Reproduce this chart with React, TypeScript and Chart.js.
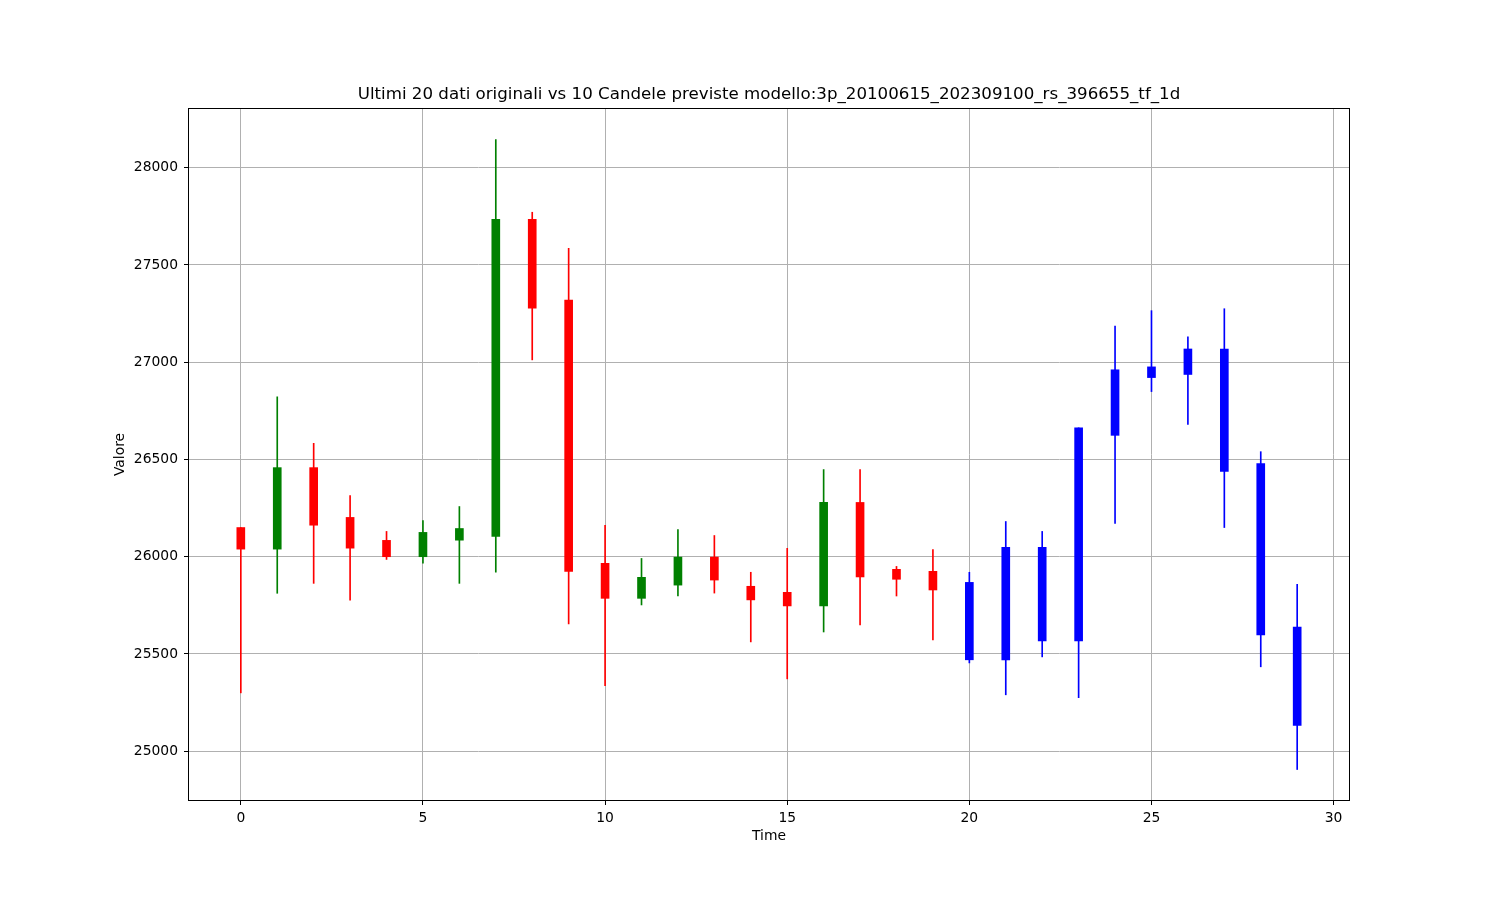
import { useEffect, useRef } from "react";
import { Chart, registerables } from "chart.js";

Chart.register(...registerables);

// ---- Data ----
const times = [
  0, 1, 2, 3, 4, 5, 6, 7, 8, 9, 10, 11, 12, 13, 14, 15, 16, 17, 18, 19,
  20, 21, 22, 23, 24, 25, 26, 27, 28, 29,
];
const opens = [
  26150, 26039, 26458, 26202, 26084, 26000, 26085, 26104, 27735, 27320,
  25966, 25786, 25854, 25998, 25848, 25817, 25747, 26279, 25935, 25925,
  25868, 25470, 26048, 25567, 26624, 26921, 26937, 27068, 26479, 25638,
];
const highs = [
  26150, 26822, 26583, 26314, 26130, 26186, 26258, 28145, 27771, 27586,
  26161, 25991, 26140, 26109, 25920, 26043, 26448, 26448, 25950, 26037,
  25920, 26181, 26130, 26663, 27186, 27265, 27130, 27275, 26540, 25858,
];
const lows = [
  25300, 25812, 25863, 25776, 25986, 25967, 25863, 25920, 27012, 25655,
  25337, 25752, 25798, 25813, 25562, 25372, 25613, 25649, 25798, 25572,
  25454, 25290, 25485, 25275, 26171, 26849, 26680, 26150, 25434, 24906,
];
const closes = [
  26039, 26458, 26162, 26044, 26000, 26125, 26145, 27735, 27278, 25925,
  25786, 25894, 25998, 25880, 25778, 25747, 26279, 25896, 25884, 25829,
  25470, 26048, 25567, 26663, 26961, 26976, 27068, 26438, 25598, 25133,
];
const originalCount = 20;
const xTicks = [0, 5, 10, 15, 20, 25, 30];
const yTicks = [25000, 25500, 26000, 26500, 27000, 27500, 28000];

const titleText =
  "Ultimi 20 dati originali vs 10 Candele previste modello:3p_20100615_202309100_rs_396655_tf_1d";
const xLabel = "Time";
const yLabel = "Valore";

const UP = "#008000";
const DOWN = "#ff0000";
const PRED = "#0000ff";

const FONT = "'DejaVu Sans', 'Liberation Sans', sans-serif";

export default function App() {
  const ref = useRef<HTMLCanvasElement | null>(null);

  useEffect(() => {
    if (!ref.current) return;

    const colors = times.map((_, i) =>
      i >= originalCount ? PRED : closes[i] >= opens[i] ? UP : DOWN
    );

    const lo = Math.min(...lows);
    const hi = Math.max(...highs);
    const yPad = (hi - lo) * 0.05;
    const xMinD = Math.min(...times);
    const xMaxD = Math.max(...times);
    const xPad = (xMaxD - xMinD) * 0.05;

    const framePlugin = {
      id: "frame",
      afterDatasetsDraw(chart: any) {
        const { ctx, chartArea } = chart;
        const l = Math.round(chartArea.left);
        const t = Math.round(chartArea.top);
        const r = Math.round(chartArea.right);
        const b = Math.round(chartArea.bottom);
        ctx.save();
        ctx.strokeStyle = "#000";
        ctx.lineWidth = 1;
        ctx.strokeRect(l + 0.5, t + 0.5, r - l - 1, b - t - 1);
        ctx.restore();
      },
    };

    const chart = new Chart(ref.current, {
      type: "bar",
      data: {
        datasets: [
          {
            label: "body",
            data: times.map((x, i) => ({ x, y: [opens[i], closes[i]] })) as any,
            backgroundColor: colors,
            borderWidth: 0,
            barThickness: 8,
            grouped: false,
          } as any,
          {
            label: "wick",
            data: times.map((x, i) => ({ x, y: [lows[i], highs[i]] })) as any,
            backgroundColor: colors,
            borderWidth: 0,
            barThickness: 1,
            grouped: false,
          } as any,
        ],
      },
      options: {
        animation: false,
        responsive: false,
        events: [],
        layout: { padding: { left: 0, right: 150, top: 0, bottom: 49 } },
        plugins: {
          legend: { display: false },
          tooltip: { enabled: false },
          title: {
            display: true,
            text: titleText,
            color: "#000",
            fullSize: false,
            font: { family: FONT, size: 16.67, weight: "normal" as any, lineHeight: 1.2 },
            padding: { top: 85, bottom: 3 },
          },
        },
        scales: {
          x: {
            type: "linear",
            min: xMinD - xPad,
            max: xMaxD + xPad,
            offset: false,
            grid: {
              offset: false,
              color: "#b0b0b0",
              lineWidth: 1,
              tickColor: "#000",
              tickLength: 4,
              drawTicks: true,
            },
            border: { display: false },
            ticks: {
              color: "#000",
              padding: 5,
              maxRotation: 0,
              autoSkip: false,
              font: { family: FONT, size: 13.89 },
              callback: (v: any) => String(v),
            },
            afterBuildTicks: (s: any) => {
              s.ticks = xTicks.map((v) => ({ value: v }));
            },
            title: {
              display: true,
              text: xLabel,
              color: "#000",
              font: { family: FONT, size: 13.89, lineHeight: 1.2 },
              padding: { top: 0, bottom: 6.5 },
            },
            afterFit: (s: any) => {
              s.height = 50;
            },
          } as any,
          y: {
            type: "linear",
            min: lo - yPad,
            max: hi + yPad,
            grid: {
              color: "#b0b0b0",
              lineWidth: 1,
              tickColor: "#000",
              tickLength: 4,
              drawTicks: true,
            },
            border: { display: false },
            ticks: {
              color: "#000",
              padding: 6,
              autoSkip: false,
              font: { family: FONT, size: 13.89 },
              callback: (v: any) => String(v),
            },
            afterBuildTicks: (s: any) => {
              s.ticks = yTicks.map((v) => ({ value: v }));
            },
            title: {
              display: true,
              text: yLabel,
              color: "#000",
              font: { family: FONT, size: 13.89, lineHeight: 1.2 },
              padding: { top: 112, bottom: 0 },
            },
            afterFit: (s: any) => {
              s.width = 188;
            },
          } as any,
        },
      },
      plugins: [framePlugin],
    });

    return () => chart.destroy();
  }, []);

  return (
    <div style={{ position: "absolute", left: 0, top: 0, width: 1500, height: 900, background: "#fff" }}>
      <canvas ref={ref} width={1500} height={900} style={{ display: "block" }} />
    </div>
  );
}
